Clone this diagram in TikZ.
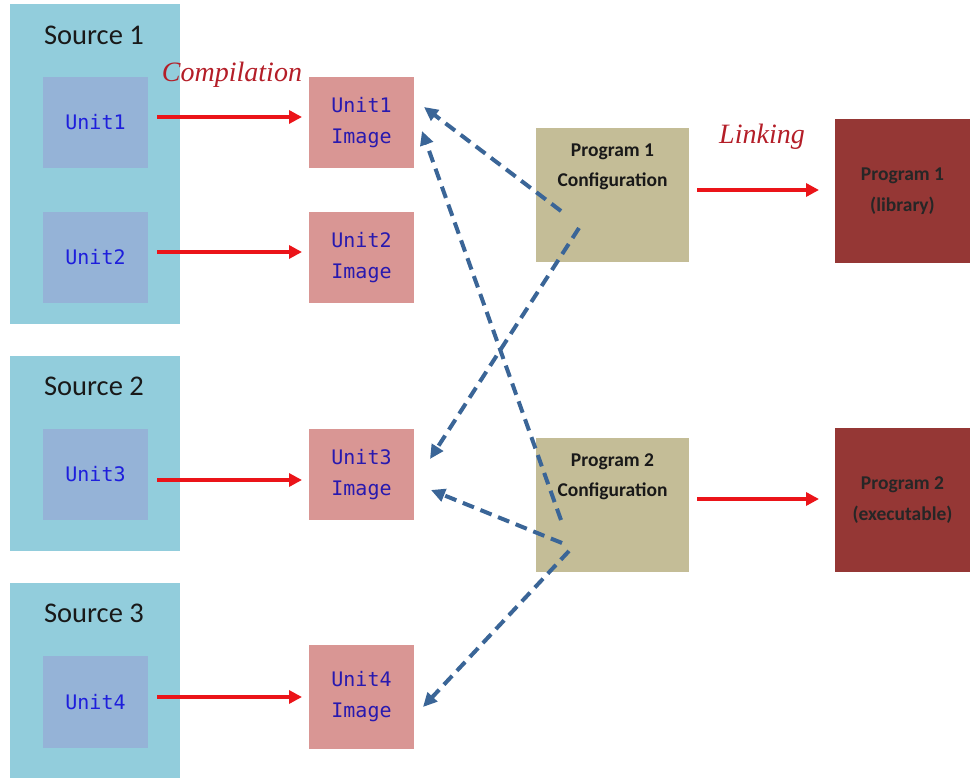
\documentclass[tikz,border=0pt]{standalone}
\usepackage{fontspec}
\setmainfont{Carlito}
\newfontfamily\monof{DejaVu Sans Mono}
\newfontfamily\serifit{Liberation Serif}
\usetikzlibrary{arrows.meta}
\definecolor{srcbg}{RGB}{146,205,220}
\definecolor{unitbg}{RGB}{149,179,215}
\definecolor{imgbg}{RGB}{217,150,148}
\definecolor{cfgbg}{RGB}{196,189,151}
\definecolor{progbg}{RGB}{149,55,53}
\definecolor{unittxt}{RGB}{30,30,220}
\definecolor{imgtxt}{RGB}{40,25,175}
\definecolor{redarr}{RGB}{235,20,25}
\definecolor{bluearr}{RGB}{58,101,151}
\definecolor{labred}{RGB}{180,30,40}
\tikzset{
  srcbox/.style={fill=srcbg,draw=none,minimum width=170pt,inner sep=0pt},
  unitbox/.style={fill=unitbg,draw=none,minimum width=105pt,minimum height=91pt,inner sep=0pt,text=unittxt,font=\monof\fontsize{20}{22}\selectfont},
  imgbox/.style={fill=imgbg,draw=none,minimum width=105pt,minimum height=91pt,inner sep=0pt,text=imgtxt,align=center,font=\monof\fontsize{20}{31}\selectfont},
  cfgbox/.style={fill=cfgbg,draw=none,minimum width=153pt,minimum height=134pt,inner sep=0pt},
  progbox/.style={fill=progbg,draw=none,minimum width=135pt,minimum height=144pt,inner sep=0pt,text=black!85,align=center,font=\bfseries\fontsize{19.5}{31}\selectfont},
  srclabel/.style={font=\fontsize{28.5}{30}\selectfont,text=black!90},
  cfglabel/.style={font=\bfseries\fontsize{19.5}{30}\selectfont,text=black!90,align=center},
  steplabel/.style={font=\serifit\itshape\fontsize{28}{30}\selectfont,text=labred},
  redline/.style={draw=redarr,line width=4pt,-{Triangle[length=13pt,width=13pt]}},
  blueline/.style={draw=bluearr,line width=4pt,dash pattern=on 12pt off 7pt,-{Triangle[length=14pt,width=13pt]}}
}
\begin{document}
\begin{tikzpicture}[x=1pt,y=-1pt]
\useasboundingbox (0,0) rectangle (970,778);
\fill[white] (0,0) rectangle (970,778);
% sources
\node[srcbox,minimum height=320pt] (s1) at (95,164) {};
\node[srcbox,minimum height=195pt] (s2) at (95,453.5) {};
\node[srcbox,minimum height=195pt] (s3) at (95,680.5) {};
\node[srclabel] (s1l) at (94,35) {Source 1};
\node[srclabel] (s2l) at (94,386) {Source 2};
\node[srclabel] (s3l) at (94,613) {Source 3};
% units
\node[unitbox] (u1) at (95.5,122.5) {Unit1};
\node[unitbox] (u2) at (95.5,257.5) {Unit2};
\node[unitbox] (u3) at (95.5,474.5) {Unit3};
\node[unitbox,minimum height=92pt] (u4) at (95.5,702) {Unit4};
% images
\node[imgbox] (i1) at (361.5,122.5) {Unit1\\Image};
\node[imgbox] (i2) at (361.5,257.5) {Unit2\\Image};
\node[imgbox] (i3) at (361.5,474.5) {Unit3\\Image};
\node[imgbox,minimum height=104pt] (i4) at (361.5,697) {Unit4\\Image};
% configs
\node[cfgbox] (c1) at (612.5,195) {};
\node[cfgbox] (c2) at (612.5,505) {};
\node[cfglabel] (c1t) at (612.5,167) {Program 1\\Configuration};
\node[cfglabel] (c2t) at (612.5,477) {Program 2\\Configuration};
% programs
\node[progbox] (p1) at (902.5,191) {Program 1\\(library)};
\node[progbox] (p2) at (902.5,500) {Program 2\\(executable)};
% labels
\node[steplabel] (comp) at (232,75) {Compilation};
\node[steplabel] (link) at (762,137) {Linking};
% compilation arrows
\coordinate (a1s) at (157,117); \coordinate (a1e) at (302,117);
\coordinate (a2s) at (157,252); \coordinate (a2e) at (302,252);
\coordinate (a3s) at (157,480); \coordinate (a3e) at (302,480);
\coordinate (a4s) at (157,697); \coordinate (a4e) at (302,697);
\draw[redline] (a1s) -- (a1e);
\draw[redline] (a2s) -- (a2e);
\draw[redline] (a3s) -- (a3e);
\draw[redline] (a4s) -- (a4e);
% linking arrows
\coordinate (l1s) at (697,190); \coordinate (l1e) at (819,190);
\coordinate (l2s) at (697,499); \coordinate (l2e) at (819,499);
\draw[redline] (l1s) -- (l1e);
\draw[redline] (l2s) -- (l2e);
% dashed reference arrows
\coordinate (d1s) at (561,211); \coordinate (d1e) at (424,107);
\coordinate (d2s) at (579,228); \coordinate (d2e) at (430,459);
\coordinate (d3s) at (561,520); \coordinate (d3e) at (422,131);
\coordinate (d4s) at (562,543); \coordinate (d4e) at (431,490);
\coordinate (d5s) at (569,551); \coordinate (d5e) at (423,707);
\draw[blueline] (d1s) -- (d1e);
\draw[blueline] (d2s) -- (d2e);
\draw[blueline] (d3s) -- (d3e);
\draw[blueline] (d4s) -- (d4e);
\draw[blueline] (d5s) -- (d5e);
\end{tikzpicture}
\end{document}
